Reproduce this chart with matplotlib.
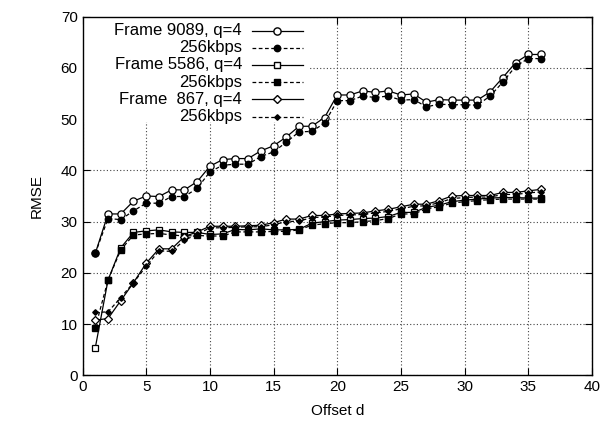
import matplotlib
matplotlib.use("Agg")
import matplotlib.pyplot as plt
from matplotlib.lines import Line2D
from matplotlib.patches import Rectangle

plt.rcParams['font.family'] = ['Liberation Sans', 'DejaVu Sans']

offsets = list(range(1, 37))

f9089_q4 = [23.8, 31.5, 31.5, 34.0, 35.0, 34.9, 36.2, 36.2, 37.8, 40.8, 42.1, 42.3,
            42.3, 43.8, 44.8, 46.5, 48.6, 48.6, 50.3, 54.7, 54.7, 55.5, 55.2, 55.5,
            54.7, 54.9, 53.3, 53.8, 53.7, 53.7, 53.7, 55.3, 58.1, 61.0, 62.6, 62.6]
f9089_256 = [23.8, 30.6, 30.4, 32.1, 33.6, 33.6, 34.9, 34.9, 36.5, 39.7, 41.0, 41.2,
             41.2, 42.7, 43.6, 45.5, 47.5, 47.6, 49.2, 53.6, 53.6, 54.5, 54.2, 54.5,
             53.7, 53.8, 52.4, 52.9, 52.8, 52.8, 52.7, 54.5, 57.2, 60.3, 61.8, 61.8]
f5586_q4 = [5.4, 18.6, 24.9, 27.9, 28.2, 28.4, 28.0, 27.9, 27.9, 27.5, 27.6, 28.5,
            28.4, 28.6, 28.4, 28.4, 28.5, 29.7, 30.0, 30.3, 30.4, 30.6, 30.7, 31.0,
            31.8, 31.8, 32.8, 33.2, 33.9, 34.2, 34.4, 34.6, 34.7, 34.7, 34.6, 34.6]
f5586_256 = [9.3, 18.6, 24.5, 27.4, 27.6, 27.7, 27.4, 27.2, 27.3, 27.2, 27.2, 28.0,
             28.0, 28.0, 28.1, 28.1, 28.4, 29.3, 29.6, 29.8, 29.8, 30.0, 30.2, 30.6,
             31.5, 31.5, 32.5, 32.9, 33.6, 33.9, 34.1, 34.3, 34.4, 34.4, 34.4, 34.4]
f867_q4 = [10.8, 11.1, 14.6, 18.1, 21.9, 24.7, 24.7, 27.1, 28.0, 29.1, 29.1, 29.1,
           29.2, 29.3, 29.8, 30.5, 30.5, 31.2, 31.2, 31.5, 31.6, 31.7, 32.1, 32.4,
           32.9, 33.4, 33.4, 34.1, 35.0, 35.1, 35.1, 35.1, 35.7, 35.7, 36.0, 36.3]
f867_256 = [12.3, 12.4, 15.2, 18.1, 21.3, 24.3, 24.2, 26.4, 27.5, 28.8, 28.8, 28.9,
            29.0, 29.0, 29.4, 30.0, 30.1, 30.8, 30.9, 31.2, 31.3, 31.4, 31.7, 32.0,
            32.5, 33.0, 33.1, 33.7, 34.5, 34.7, 34.8, 34.8, 35.3, 35.3, 35.6, 35.8]

labels = ["Frame 9089, q=4", "256kbps", "Frame 5586, q=4", "256kbps",
          "Frame  867, q=4", "256kbps"]

fig = plt.figure(figsize=(6.16, 4.28), dpi=100)
ax = fig.add_axes([0.134, 0.1227, 0.827, 0.8387])

styles = [
    dict(ls='-', marker='o', ms=5.2, mfc='white', mec='black', color='black', lw=0.9, mew=0.9),
    dict(ls=(0, (3, 2)), marker='o', ms=4.6, mfc='black', mec='black', color='black', lw=0.9),
    dict(ls='-', marker='s', ms=4.8, mfc='white', mec='black', color='black', lw=0.9, mew=0.9),
    dict(ls=(0, (3, 2)), marker='s', ms=4.0, mfc='black', mec='black', color='black', lw=0.9),
    dict(ls='-', marker='D', ms=4.0, mfc='white', mec='black', color='black', lw=0.9, mew=0.9),
    dict(ls=(0, (3, 2)), marker='D', ms=2.8, mfc='black', mec='black', color='black', lw=0.9),
]
series = [f9089_q4, f9089_256, f5586_q4, f5586_256, f867_q4, f867_256]
for s, st in zip(series, styles):
    ax.plot(offsets, s, **st, zorder=3)

ax.set_xlim(0, 40)
ax.set_ylim(0, 70)
ax.set_xticks(range(0, 41, 5))
ax.set_yticks(range(0, 71, 10))
ax.grid(True, color='#444444', ls=(0, (1, 2)), lw=0.8)
ax.tick_params(direction='in', top=True, right=True, length=5, labelsize=11, width=0.8)
for sp in ax.spines.values():
    sp.set_linewidth(1.0)
    sp.set_zorder(7)
ax.set_xlabel("Offset d", fontsize=11, labelpad=7)
ax.set_ylabel("RMSE", fontsize=11, labelpad=12)

# gnuplot-style key with an opaque background covering the grid
ax.add_patch(Rectangle((0, 0.706), 0.447, 0.294, transform=ax.transAxes,
                       facecolor='white', edgecolor='none', zorder=4))
x_text = 0.313
x0, x1 = 0.332, 0.432
y_start = 0.961
dy = 0.048
for i, (lab, st) in enumerate(zip(labels, styles)):
    y = y_start - i * dy
    ax.text(x_text, y, lab, transform=ax.transAxes, ha='right', va='center', fontsize=12,
            zorder=5)
    ln = Line2D([x0, x1], [y, y], transform=ax.transAxes, color='black',
                ls=st['ls'], lw=st['lw'], zorder=5)
    ax.add_line(ln)
    mk = Line2D([(x0 + x1) / 2], [y], transform=ax.transAxes, ls='none',
                marker=st['marker'], ms=st['ms'], mfc=st['mfc'], mec=st['mec'], zorder=6)
    ax.add_line(mk)

fig.savefig("out.png", dpi=100)
